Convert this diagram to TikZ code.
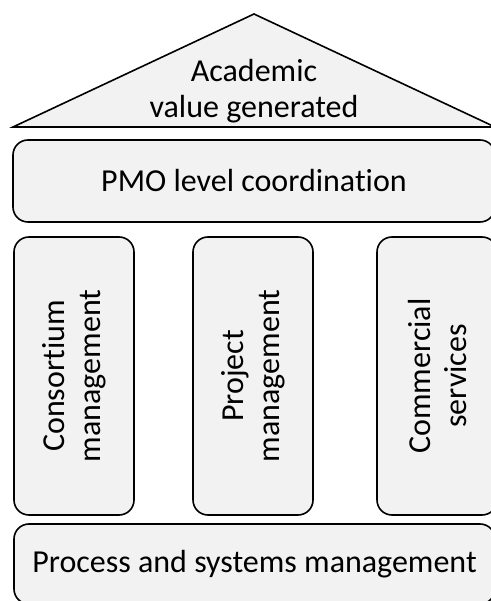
\documentclass[tikz,border=0pt]{standalone}
\usepackage{fontspec}
\setmainfont{Carlito}[Ligatures=CommonOff]
\definecolor{boxgray}{HTML}{F2F2F2}
\begin{document}
\begin{tikzpicture}[x=1pt,y=1pt,line width=1.6pt,
    every node/.style={inner sep=0pt,font=\fontsize{32}{36}\selectfont},
    block/.style={draw,fill=boxgray,rounded corners=15pt,align=center},
    pillar/.style={block,rotate=90,minimum width=278pt,minimum height=120pt}]
    \useasboundingbox (0,0) rectangle (490,601);
    % roof
    \draw[fill=boxgray,line join=miter] (13,474) -- (254,587) -- (495,474) -- cycle;
    \node[align=center] (roof) at (254,510) {Academic\\value generated};
    % beam
    \node[block,minimum width=482pt,minimum height=82pt] (pmo) at (254,420) {PMO level coordination};
    % pillars
    \node[pillar] (cons) at (74,225) {Consortium\\management};
    \node[pillar] (proj) at (253,225) {Project\\management};
    \node[pillar] (comm) at (437,225) {Commercial\\services};
    % base
    \node[block,minimum width=481pt,minimum height=80pt] (proc) at (254.5,37) {Process and systems management};
\end{tikzpicture}
\end{document}
